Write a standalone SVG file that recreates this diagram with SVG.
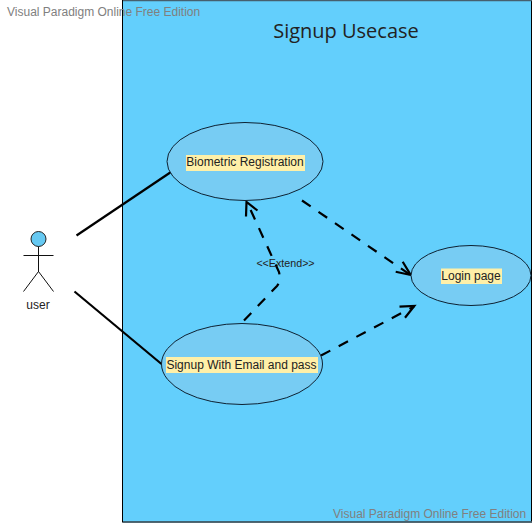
<svg xmlns="http://www.w3.org/2000/svg" width="532" height="523" viewBox="0 0 532 523">
<style>
text{font-family:"Liberation Sans",Arial,sans-serif;font-size:12px;fill:#222}
.wm{font-size:12px;fill:#808080}
.uc{fill:#77ccf3;stroke:#0d2233;stroke-width:1}
.lb{fill:#fff0a8}
.conn{fill:none;stroke:#000;stroke-width:2.2}
.dash{stroke-dasharray:10.500 9.500}
.actor{fill:none;stroke:#111;stroke-width:1}
</style>
<rect width="532" height="523" fill="#fff"/>
<g id="system">
<rect x="122.500" y="0.500" width="409" height="521.500" fill="#63cffc" stroke="#000" stroke-width="1"/>
<path d="M123 0.500H532M123 522H532" stroke="#46606e" stroke-width="1.400" fill="none"/>
<text x="346" y="38" text-anchor="middle" style="font-family:'Open Sans','Noto Sans',sans-serif;font-size:20px" fill="#2a3a44">Signup Usecase</text>
</g>
<g id="connectors">
<path class="conn" d="M76.500 235.500L171 172"/>
<path class="conn" d="M74.500 291.500L161.500 364"/>
<path class="conn dash" d="M244 320.500L277 286Q281 281 279 272L247 202"/>
<path class="conn" d="M246 216.500L246.500 202L257.500 210.500"/>
<path class="conn dash" d="M302 200.500L410.500 275"/>
<path class="conn" d="M402.700 261.700L410.700 275L395.700 271.700"/>
<path class="conn dash" d="M321 355.500L414 306.500"/>
<path class="conn" d="M399.500 306.700L414.300 306L405 317.700"/>
</g>
<g id="actor-user">
<circle cx="38.500" cy="239" r="7.500" fill="#66c9f2" stroke="#222" stroke-width="1"/>
<path class="actor" d="M38.500 246.500V272M23.500 255.500H53.500M23.500 291.500L38.500 271.500L53.500 291.500"/>
<text x="38" y="309" text-anchor="middle">user</text>
</g>
<g id="uc-biometric">
<ellipse class="uc" cx="245" cy="161.500" rx="78" ry="39"/>
<rect class="lb" x="186" y="155" width="119" height="16"/>
<text x="245" y="166" text-anchor="middle">Biometric Registration</text>
</g>
<g id="uc-signup">
<ellipse class="uc" cx="242" cy="364" rx="80.500" ry="40.500"/>
<rect class="lb" x="166" y="357" width="152" height="16"/>
<text x="241.500" y="369" text-anchor="middle">Signup With Email and pass</text>
</g>
<g id="uc-login">
<ellipse class="uc" cx="471" cy="275.500" rx="60" ry="30"/>
<rect class="lb" x="441" y="268.500" width="61" height="15.500"/>
<text x="471" y="280" text-anchor="middle">Login page</text>
</g>
<text x="285.500" y="267" text-anchor="middle" style="font-size:10.700px">&lt;&lt;Extend&gt;&gt;</text>
<text class="wm" x="7" y="16">Visual Paradigm Online Free Edition</text>
<text class="wm" x="333" y="518">Visual Paradigm Online Free Edition</text>
</svg>
